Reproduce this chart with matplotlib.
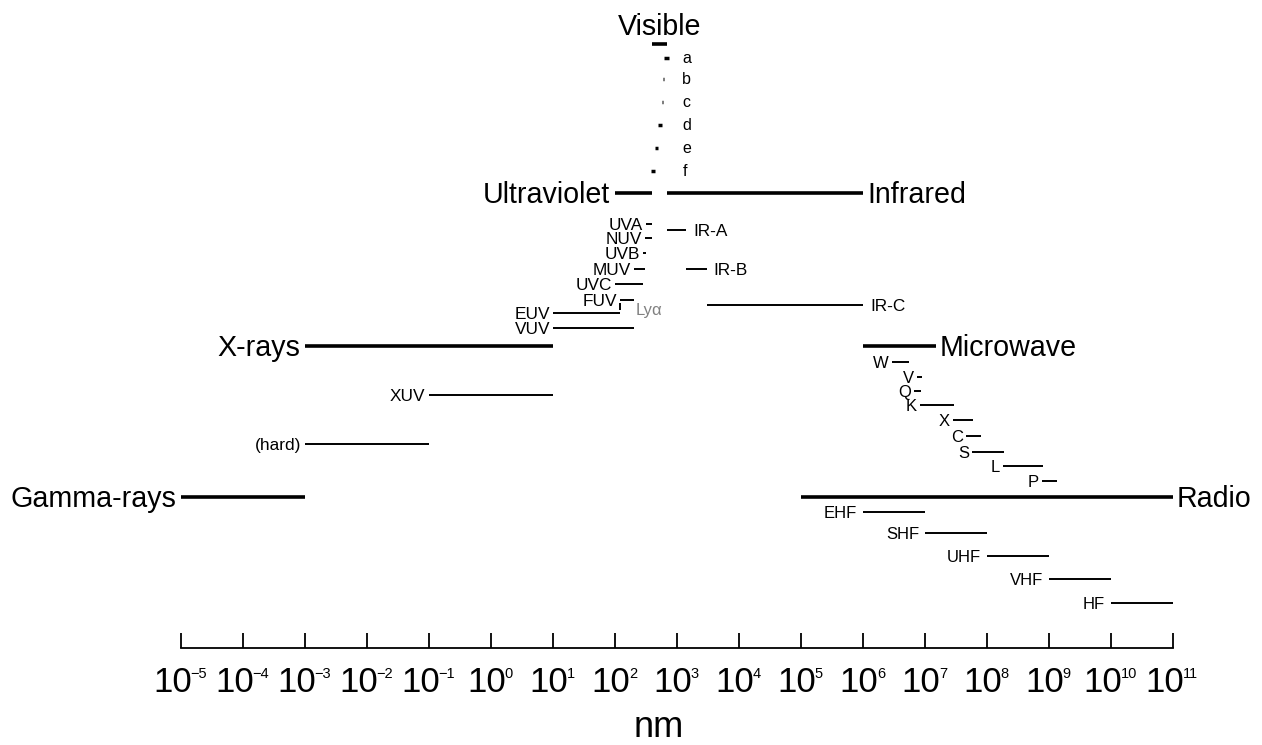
import matplotlib
matplotlib.use('Agg')
from matplotlib import pyplot as plt
from matplotlib.ticker import NullLocator

plt.rcParams['font.family'] = ['Liberation Sans', 'DejaVu Sans']

# Wavelength ranges in nm
main_names = ['Gamma-rays', 'X-rays', 'Ultraviolet', 'Visible', 'Infrared', 'Microwave', 'Radio']
main_lo = [1e-5, 1e-3, 100, 400, 700, 1e6, 1e5]
main_hi = [1e-3, 1e1, 400, 700, 1e6, 1.5e7, 1e11]

vis_names = ['a', 'b', 'c', 'd', 'e', 'f']
vis_lo = [625, 590, 565, 500, 450, 380]
vis_hi = [740, 625, 590, 565, 500, 450]

uv_names = ['UVA', 'NUV', 'UVB', 'MUV', 'UVC', 'FUV', 'EUV', 'VUV']
uv_lo = [315, 300, 280, 200, 100, 122, 10, 10]
uv_hi = [400, 400, 315, 300, 280, 200, 121, 200]

ir_names = ['IR-A', 'IR-B', 'IR-C']
ir_lo = [700, 1400, 3000]
ir_hi = [1400, 3000, 1e6]

xray_names = ['XUV', '(hard)']
xray_lo = [1e-1, 1e-3]
xray_hi = [1e1, 1e-1]

mw_names = ['W', 'V', 'Q', 'K', 'X', 'C', 'S', 'L', 'P']
mw_lo = [2.95e6, 7.4e6, 6.6e6, 8.3e6, 2.8e7, 4.6e7, 5.7e7, 1.8e8, 7.7e8]
mw_hi = [5.5e6, 9.0e6, 8.6e6, 2.95e7, 5.9e7, 8.0e7, 1.9e8, 8.0e8, 1.35e9]

radio_names = ['EHF', 'SHF', 'UHF', 'VHF', 'HF']
radio_lo = [1e6, 1e7, 1e8, 1e9, 1e10]
radio_hi = [1e7, 1e8, 1e9, 1e10, 1e11]

lyman_alpha = 121.6
exponents = list(range(-5, 12))

# Layout: vertical level of each row (pixels from the top)
main_rows = [497, 346, 193, 44, 193, 346, 497]
main_side = ['left', 'left', 'left', 'top', 'right', 'right', 'right']
vis_rows = [58, 79, 102, 125, 148, 171]
uv_rows = [224, 238, 253, 269, 284, 300, 313, 328]
ir_rows = [230, 269, 305]
xray_rows = [395, 444]
mw_rows = [362, 377, 391, 405, 420, 436, 452, 466, 481]
radio_rows = [512, 533, 556, 579, 603]

W, H = 1262, 745
fig = plt.figure(figsize=(W / 100, H / 100), dpi=100)
ax = fig.add_axes([181 / W, (H - 648) / H, 992 / W, 648 / H])
ax.set_xscale('log')
ax.set_xlim(1e-5, 1e11)
ax.set_ylim(648, 0)


def px(pt):
    return pt * 100 / 72


def label(x, y, text, side, size, gap, color='black'):
    dy = -0.36 * px(size)
    if side == 'left':
        ax.annotate(text, (x, y), xytext=(-gap, dy), textcoords='offset pixels',
                    ha='right', va='baseline', fontsize=size, color=color)
    elif side == 'right':
        ax.annotate(text, (x, y), xytext=(gap, dy), textcoords='offset pixels',
                    ha='left', va='baseline', fontsize=size, color=color)
    else:
        ax.annotate(text, (x, y), xytext=(0, gap), textcoords='offset pixels',
                    ha='center', va='baseline', fontsize=size, color=color)


# main regions
ax.hlines(main_rows, main_lo, main_hi, color='black', lw=2.6)
for n, lo, hi, r, s in zip(main_names, main_lo, main_hi, main_rows, main_side):
    if s == 'left':
        label(lo, r, n, 'left', 20.6, 5)
    elif s == 'right':
        label(hi, r, n, 'right', 20.6, 4)
    else:
        label((lo * hi) ** 0.5, r, n, 'top', 20.6, 9)

# visible colours
ax.hlines(vis_rows, vis_lo, vis_hi, color='black', lw=2.5)
for n, r in zip(vis_names, vis_rows):
    ax.annotate(n, (700, r - 1), xytext=(15, -0.36 * px(11.5)), textcoords='offset pixels',
                ha='left', va='baseline', fontsize=11.5)

# ultraviolet
ax.hlines(uv_rows, uv_lo, uv_hi, color='black', lw=1.4)
for n, lo, r in zip(uv_names, uv_lo, uv_rows):
    label(lo, r, n, 'left', 12.4, 3)
ax.vlines(lyman_alpha, 303, 310, color='black', lw=1.4)
ax.annotate('Ly\u03b1', (lyman_alpha, 309), xytext=(15, -0.36 * px(12)),
            textcoords='offset pixels', ha='left', va='baseline',
            fontsize=12, color='#808080')

# infrared
ax.hlines(ir_rows, ir_lo, ir_hi, color='black', lw=1.4)
for n, hi, r in zip(ir_names, ir_hi, ir_rows):
    label(hi, r, n, 'right', 12.4, 7)

# x-rays
ax.hlines(xray_rows, xray_lo, xray_hi, color='black', lw=1.4)
for n, lo, r in zip(xray_names, xray_lo, xray_rows):
    label(lo, r, n, 'left', 12.4, 4)

# microwave bands
ax.hlines(mw_rows, mw_lo, mw_hi, color='black', lw=1.4)
for n, lo, r in zip(mw_names, mw_lo, mw_rows):
    label(lo, r, n, 'left', 12, 3)

# radio bands
ax.hlines(radio_rows, radio_lo, radio_hi, color='black', lw=1.4)
for n, lo, r in zip(radio_names, radio_lo, radio_rows):
    label(lo, r, n, 'left', 12, 6)

# axis
for s in ['left', 'right', 'top']:
    ax.spines[s].set_visible(False)
ax.spines['bottom'].set_linewidth(1.3)
ax.set_yticks([])
ax.set_xticks([10.0 ** e for e in exponents])
ax.xaxis.set_minor_locator(NullLocator())
ax.set_xticklabels([])
ax.tick_params(axis='x', direction='in', length=11, width=1.3)

fs10, fsexp = 25, 10.5
for e in exponents:
    s = str(e).replace('-', '\u2212')
    w10 = 2 * 0.556 * px(fs10)
    wexp = sum(0.584 if c == '\u2212' else 0.556 for c in s) * px(fsexp)
    right = (w10 - wexp) / 2
    ax.annotate('10', (10.0 ** e, 0), xycoords=('data', 'axes fraction'),
                xytext=(right, -44), textcoords='offset pixels',
                ha='right', va='baseline', fontsize=fs10, annotation_clip=False)
    ax.annotate(s, (10.0 ** e, 0), xycoords=('data', 'axes fraction'),
                xytext=(right - 1.5, -30), textcoords='offset pixels',
                ha='left', va='baseline', fontsize=fsexp, annotation_clip=False)

fig.text(659 / W, 1 - 737 / H, 'nm', ha='center', va='baseline', fontsize=26)

fig.savefig('out.png', dpi=100, facecolor='white')
